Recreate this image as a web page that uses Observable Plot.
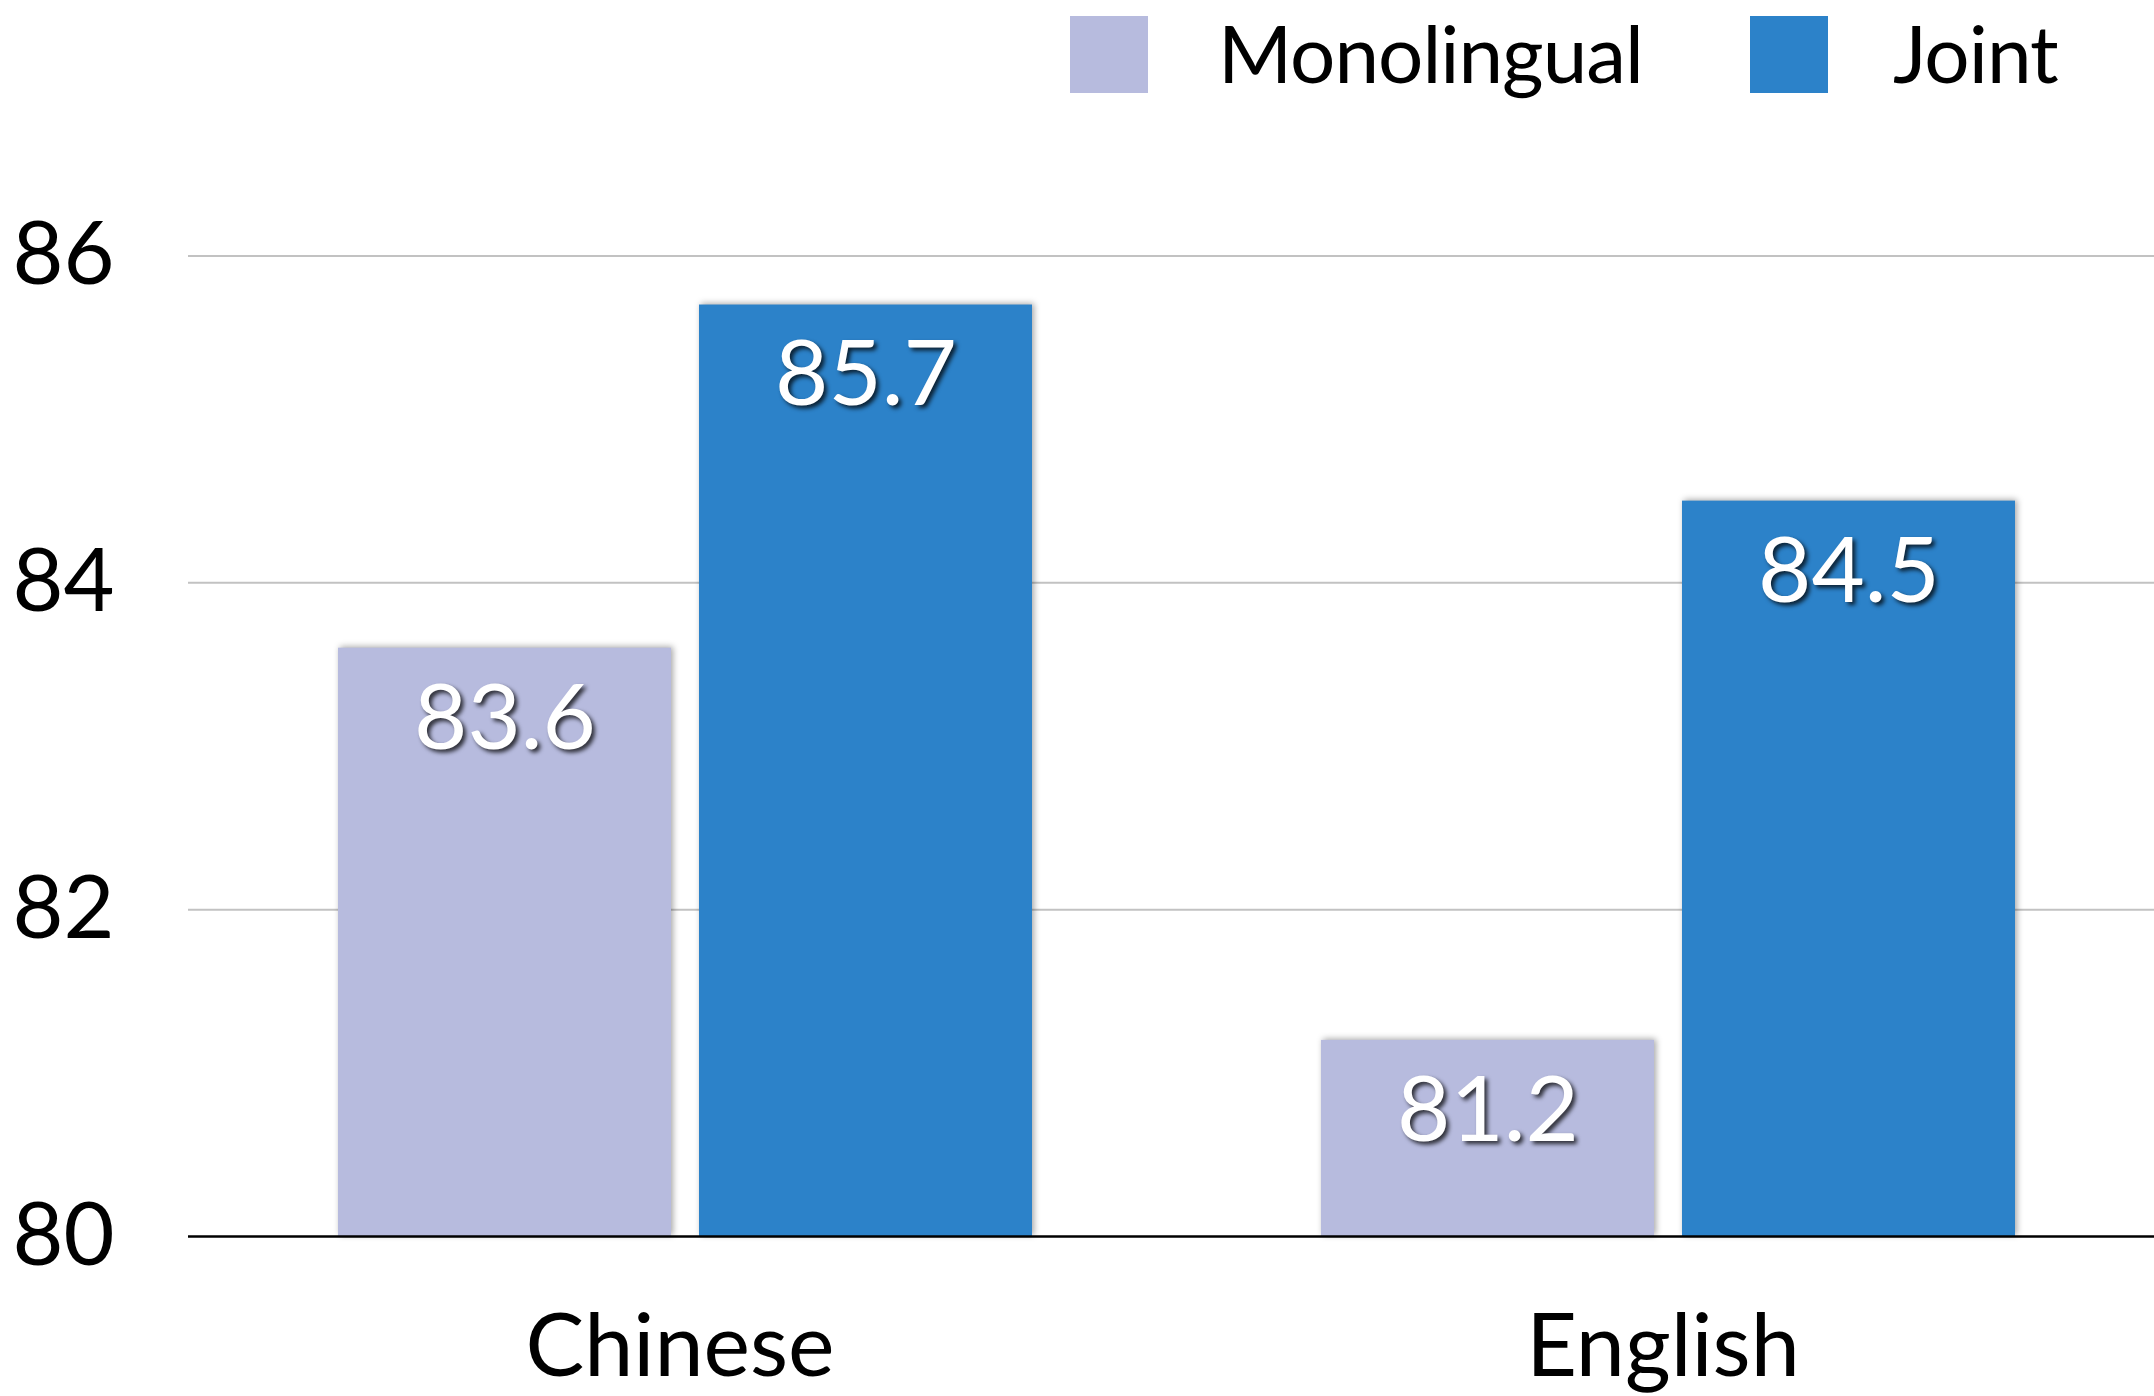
<!DOCTYPE html>
<html>
<head>
<meta charset="utf-8">
<script src="https://cdn.jsdelivr.net/npm/d3@7"></script>
<script src="https://cdn.jsdelivr.net/npm/@observablehq/plot@0.6"></script>
<style>
  html, body { margin: 0; padding: 0; background: white; }
  body { width: 2154px; height: 1396px; overflow: hidden; font-family: Lato, "Open Sans", sans-serif; }
  #legend { position: relative; height: 120px; width: 2154px; }
  .sw { position: absolute; top: 16px; width: 78px; height: 77px; }
  .lab { position: absolute; top: 0px; font-size: 80px; line-height: 104px; color: black; letter-spacing: -1px; }
  #chart g[aria-label="bar"] { filter: drop-shadow(2px -1px 3px rgba(0,0,0,0.35)); }
  #chart g[aria-label="text"] { filter: drop-shadow(3px 3px 2px rgba(0,0,0,0.75)); }
</style>
</head>
<body>
<div id="legend"></div>
<div id="chart"></div>
<script>
const languages = ["Chinese", "English"];
const series = ["Monolingual", "Joint"];
const monolingual = [83.6, 81.2];
const joint = [85.7, 84.5];
const yTicks = [80, 82, 84, 86];
const colors = ["#b7bbde", "#2c82c9"];

const rows = languages.flatMap((lang, i) => [
  {lang, series: series[0], value: monolingual[i]},
  {lang, series: series[1], value: joint[i]}
]);

// Legend (HTML, above the SVG)
const legend = document.getElementById("legend");
const legendPos = [{sw: 1070, lab: 1218}, {sw: 1750, lab: 1893}];
series.forEach((s, i) => {
  const sw = document.createElement("div");
  sw.className = "sw";
  sw.style.left = legendPos[i].sw + "px";
  sw.style.background = colors[i];
  legend.appendChild(sw);
  const lab = document.createElement("div");
  lab.className = "lab";
  lab.style.left = legendPos[i].lab + "px";
  lab.textContent = s;
  legend.appendChild(lab);
});

const chart = Plot.plot({
  width: 2154,
  height: 1276,
  marginTop: 135.5,
  marginBottom: 160,
  marginLeft: 187,
  marginRight: 0,
  style: {fontFamily: "Lato, 'Open Sans', sans-serif", fontSize: "88px", color: "black", background: "white", overflow: "visible"},
  facet: {data: rows, x: "lang", marginTop: 0, marginBottom: 0, marginLeft: 0, marginRight: 0},
  fx: {domain: languages, padding: 0, axis: "bottom", tickSize: 0, tickPadding: 77, label: null},
  x: {domain: series, axis: null, paddingInner: 0.078, paddingOuter: 0.4, align: 0.52},
  y: {domain: [yTicks[0], yTicks[yTicks.length - 1]], ticks: yTicks, tickFormat: d3.format("d"), tickSize: 0, tickPadding: 74, label: null},
  color: {domain: series, range: colors},
  marks: [
    Plot.ruleY(yTicks.slice(1), {stroke: "#c2c2c2", strokeWidth: 2}),
    Plot.barY(rows, {x: "series", y1: () => yTicks[0], y2: "value", fill: "series"}),
    Plot.ruleY([yTicks[0]], {stroke: "black", strokeWidth: 2.5}),
    Plot.text(rows, {x: "series", y: "value", text: d => d.value.toFixed(1), fill: "white", fontSize: 92, dy: 71, lineAnchor: "middle"})
  ]
});
document.getElementById("chart").appendChild(chart);
</script>
</body>
</html>
